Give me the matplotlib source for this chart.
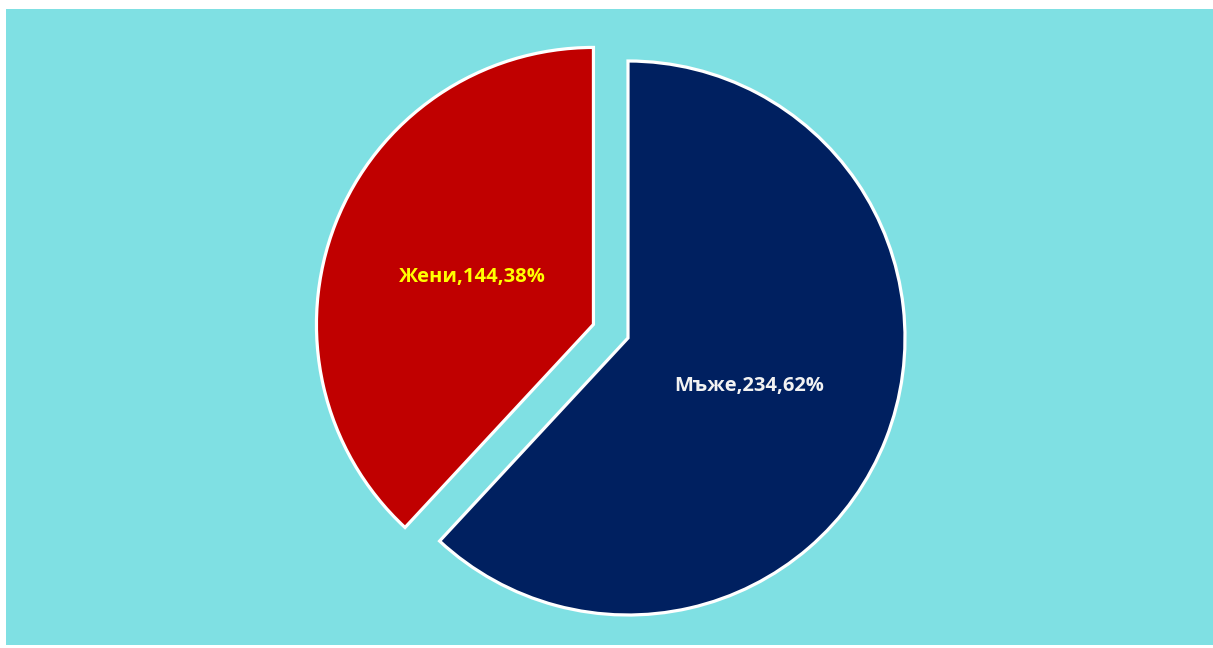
import matplotlib
matplotlib.use("Agg")
import matplotlib.pyplot as plt

# Разпределение по пол
labels = ["Мъже", "Жени"]
counts = [234, 144]
shares = [62, 38]
colors = ["#002060", "#C00000"]
text_colors = ["#F2F2F2", "#FFFF00"]
explode = [0, 0.134]

W, H = 1213, 648
fig = plt.figure(figsize=(W / 100, H / 100), dpi=100)
fig.patch.set_facecolor("white")

# cyan panel
left, bottom, right, top = 6, 3, 1213, 639
ax = fig.add_axes([left / W, bottom / H, (right - left) / W, (top - bottom) / H])
ax.set_facecolor("#7FE0E3")
for s in ax.spines.values():
    s.set_visible(False)
ax.set_xticks([])
ax.set_yticks([])

R = 277.0
cx, cy = 628 - left, (H - 338) - bottom
aw, ah = right - left, top - bottom

texts = [f"{l},{c},{p}%" for l, c, p in zip(labels, counts, shares)]
wedges, lbls = ax.pie(counts, labels=texts, colors=colors, explode=explode,
                      startangle=90, counterclock=False, labeldistance=0.47,
                      wedgeprops=dict(edgecolor="white", linewidth=2.3),
                      textprops=dict(fontsize=14.5, fontweight="bold",
                                     family="Open Sans"),
                      frame=True)
for t, c in zip(lbls, text_colors):
    t.set_color(c)
    t.set_ha("center")
    t.set_va("center")

ax.set_xlim(-cx / R, (aw - cx) / R)
ax.set_ylim(-cy / R, (ah - cy) / R)
ax.set_aspect("equal")

fig.savefig("out.png", dpi=100, facecolor=fig.get_facecolor())
